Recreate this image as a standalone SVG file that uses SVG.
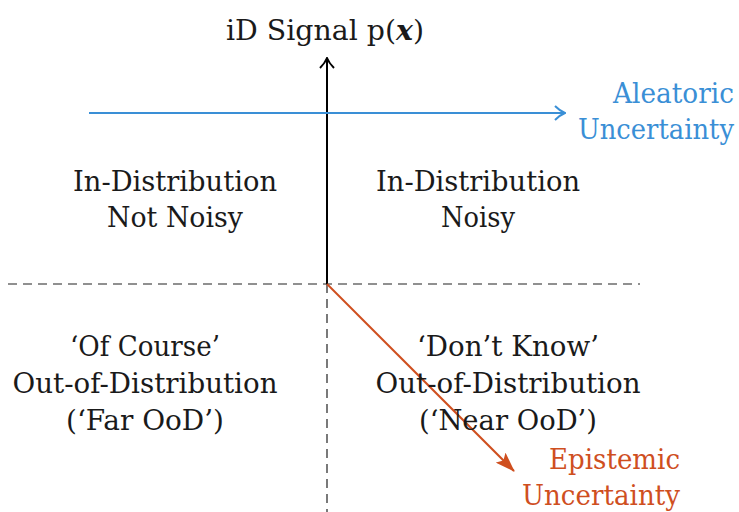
<svg xmlns="http://www.w3.org/2000/svg" width="739" height="512" viewBox="0 0 739 512">
<defs>
<style>
text{font-family:"DejaVu Serif",serif;font-size:27px;fill:#1a1a1a;text-anchor:middle}
.blue{fill:#3a8fd6}
.orange{fill:#cf4f1f}
.end{text-anchor:end}
.dash{stroke:#222;stroke-width:1.2;stroke-dasharray:9,6;fill:none}
</style>
<marker id="ak" viewBox="0 0 12 16" refX="11" refY="8" markerWidth="12" markerHeight="16" markerUnits="userSpaceOnUse" orient="auto"><path d="M1,1 Q6,6 11,8 Q6,10 1,15" fill="none" stroke="#000" stroke-width="2"/></marker>
<marker id="ab" viewBox="0 0 12 16" refX="11" refY="8" markerWidth="12" markerHeight="16" markerUnits="userSpaceOnUse" orient="auto"><path d="M1,1 Q6,6 11,8 Q6,10 1,15" fill="none" stroke="#3a8fd6" stroke-width="2"/></marker>
<marker id="ao" viewBox="0 0 20 14" refX="19" refY="7" markerWidth="20" markerHeight="14" markerUnits="userSpaceOnUse" orient="auto"><path d="M0,0 L20,7 L0,14 L4,7 Z" fill="#cf4f1f"/></marker>
</defs>
<g id="connectors">
<line class="dash" x1="8" y1="284" x2="640" y2="284"/>
<line class="dash" x1="327" y1="284" x2="327" y2="512"/>
<line x1="327" y1="284" x2="327" y2="58" stroke="#000" stroke-width="2" marker-end="url(#ak)"/>
<line x1="89" y1="113" x2="565" y2="113" stroke="#3a8fd6" stroke-width="2" marker-end="url(#ab)"/>
<line x1="327" y1="284" x2="514" y2="471" stroke="#cf4f1f" stroke-width="2" marker-end="url(#ao)"/>
</g>
<g id="axis-title"><text x="325" y="40" textLength="198" lengthAdjust="spacingAndGlyphs">iD Signal p(<tspan font-weight="bold" font-style="italic">x</tspan>)</text></g>
<g id="aleatoric">
<text class="blue end" x="734" y="103" textLength="121" lengthAdjust="spacingAndGlyphs">Aleatoric</text>
<text class="blue end" x="734" y="139" textLength="156" lengthAdjust="spacingAndGlyphs">Uncertainty</text>
</g>
<g id="id-not-noisy">
<text x="175" y="191" textLength="204" lengthAdjust="spacingAndGlyphs">In-Distribution</text>
<text x="175" y="227" textLength="136" lengthAdjust="spacingAndGlyphs">Not Noisy</text>
</g>
<g id="id-noisy">
<text x="478" y="191" textLength="204" lengthAdjust="spacingAndGlyphs">In-Distribution</text>
<text x="478" y="227" textLength="74" lengthAdjust="spacingAndGlyphs">Noisy</text>
</g>
<g id="far-ood">
<text x="145" y="356" textLength="150" lengthAdjust="spacingAndGlyphs">‘Of Course’</text>
<text x="145" y="393" textLength="265" lengthAdjust="spacingAndGlyphs">Out-of-Distribution</text>
<text x="145" y="430" textLength="158" lengthAdjust="spacingAndGlyphs">(‘Far OoD’)</text>
</g>
<g id="near-ood">
<text x="508" y="356" textLength="182" lengthAdjust="spacingAndGlyphs">‘Don’t Know’</text>
<text x="508" y="393" textLength="265" lengthAdjust="spacingAndGlyphs">Out-of-Distribution</text>
<text x="508" y="430" textLength="178" lengthAdjust="spacingAndGlyphs">(‘Near OoD’)</text>
</g>
<g id="epistemic">
<text class="orange end" x="680" y="469" textLength="131" lengthAdjust="spacingAndGlyphs">Epistemic</text>
<text class="orange end" x="680" y="505" textLength="158" lengthAdjust="spacingAndGlyphs">Uncertainty</text>
</g>
</svg>
